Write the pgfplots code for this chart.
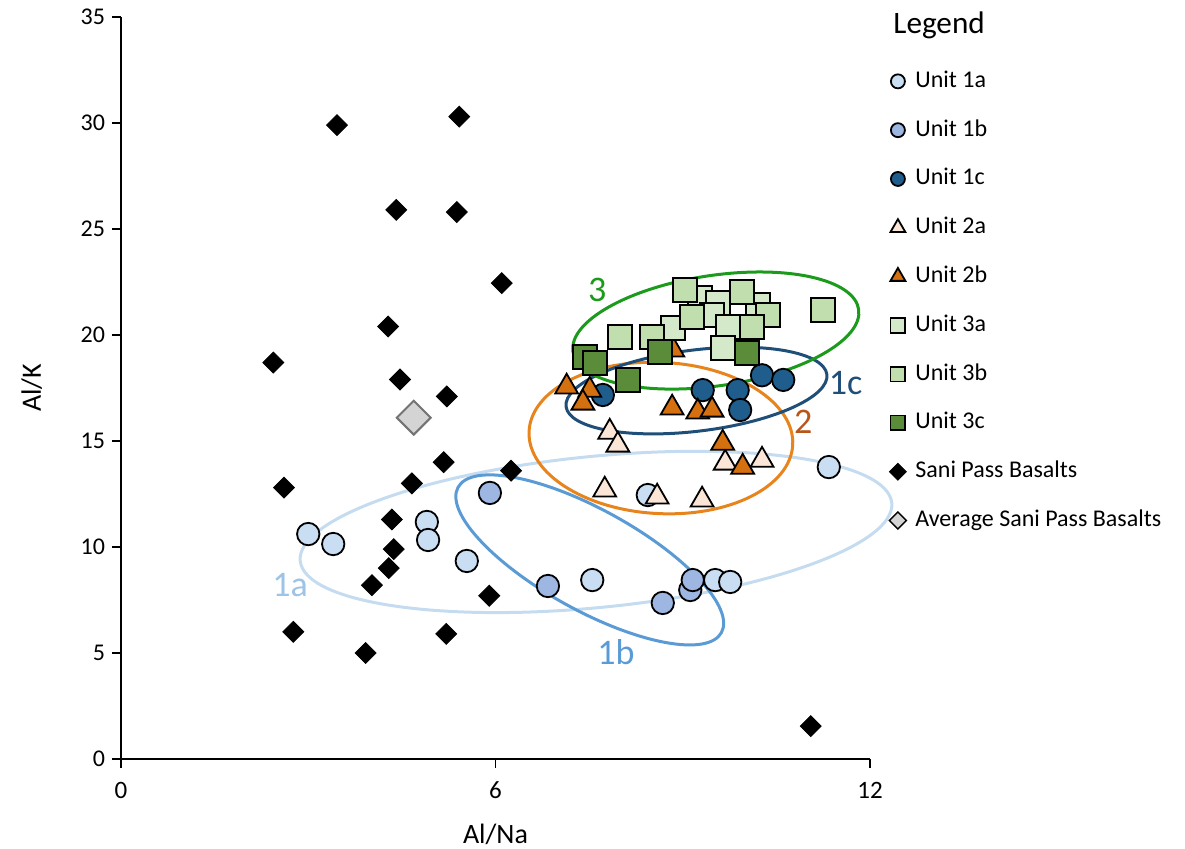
\documentclass[border=0pt]{standalone}
\usepackage{pgfplots}
\pgfplotsset{compat=1.18}
\usepackage{fontspec}
\setmainfont{Carlito}
\definecolor{c1a}{HTML}{C9DEF2}
\definecolor{c1b}{HTML}{9DB7E2}
\definecolor{c1c}{HTML}{1F5D8C}
\definecolor{c2a}{HTML}{FBE5D6}
\definecolor{c2b}{HTML}{D4700F}
\definecolor{c3a}{HTML}{D3E9C9}
\definecolor{c3b}{HTML}{C1DFAE}
\definecolor{c3c}{HTML}{5B8C3A}
\definecolor{cavg}{HTML}{D4D4D4}
\definecolor{e1a}{HTML}{C5DCF0}
\definecolor{e1b}{HTML}{5B9BD5}
\definecolor{e1c}{HTML}{1F4E79}
\definecolor{e2}{HTML}{E8841C}
\definecolor{e3}{HTML}{1C9A1C}
\definecolor{l1a}{HTML}{9DC3E6}
\definecolor{l2}{HTML}{B8561A}
\pgfplotsset{lgimg/.style={legend image code/.code={\draw[mark size=#1] plot coordinates {(0pt,0pt)};}}}
\begin{document}
\begin{tikzpicture}
\begin{axis}[
  at={(60.5pt,45pt)}, anchor=south west,
  scale only axis, width=374.5pt, height=371pt,
  xmin=0, xmax=12, ymin=0, ymax=35,
  axis lines*=left,
  axis line style={black, line width=0.9pt},
  xtick={0,6,12}, ytick={0,5,...,35},
  tick align=outside, major tick length=4.5pt,
  tick style={black, line width=0.9pt},
  yticklabel style={font=\fontsize{12}{14}\selectfont},
  xticklabel style={font=\fontsize{12.5}{14}\selectfont, yshift=-3.5pt},
  /pgf/number format/assume math mode=true,
  xlabel={Al/Na}, ylabel={Al/K},
  label style={font=\fontsize{14}{16}\selectfont},
  xlabel style={at={(axis description cs:0.5,-0.102)}, anchor=center},
  ylabel style={at={(axis description cs:-0.119,0.5)}, anchor=center},
  clip=false,
  legend cell align=left,
  legend style={at={(rel axis cs:1.0254,0.9313)}, anchor=north west, draw=none, fill=none,
    font=\fontsize{12}{14}\selectfont, row sep=11.4pt, column sep=3.5pt, inner sep=0pt,
    nodes={inner sep=1pt, text height=8.5pt, text depth=2.5pt}},
]
\addplot[only marks, mark=*, mark size=5.6pt, mark options={fill=c1a, draw=black, line width=0.9pt}, lgimg=3.5pt] coordinates {
(3.00,10.61) (3.40,10.14) (4.90,11.18) (4.92,10.33) (5.54,9.34) (7.55,8.44) (9.52,8.44) (9.76,8.35) (11.34,13.77) (8.44,12.45)};
\addlegendentry{Unit 1a}
\addplot[only marks, mark=*, mark size=5.6pt, mark options={fill=c1b, draw=black, line width=0.9pt}, lgimg=3.5pt] coordinates {
(5.91,12.55) (6.84,8.16) (8.68,7.36) (9.12,7.97) (9.16,8.44)};
\addlegendentry{Unit 1b}
\addplot[only marks, mark=*, mark size=5.6pt, mark options={fill=c1c, draw=black, line width=0.9pt}, lgimg=3.5pt] coordinates {
(7.72,17.17) (9.32,17.40) (9.88,17.40) (9.92,16.46) (10.27,18.10) (10.61,17.88)};
\addlegendentry{Unit 1c}
\addplot[only marks, mark=triangle*, mark size=6.6pt, mark options={fill=c2a, draw=black, line width=0.9pt}, lgimg=4.3pt] coordinates {
(7.83,15.42) (7.96,14.81) (9.68,13.96) (10.27,14.10) (7.75,12.69) (8.59,12.36) (9.31,12.22)};
\addlegendentry{Unit 2a}
\addplot[only marks, mark=triangle*, mark size=6.6pt, mark options={fill=c2b, draw=black, line width=0.9pt}, lgimg=4.3pt] coordinates {
(7.14,17.55) (7.51,17.40) (7.40,16.79) (8.83,16.56) (9.24,16.37) (9.47,16.46) (9.64,14.90) (9.96,13.77) (8.84,19.30)};
\addlegendentry{Unit 2b}
\addplot[only marks, mark=square*, mark size=6pt, mark options={fill=c3a, draw=black, line width=0.9pt}, lgimg=3.7pt] coordinates {
(9.28,21.75) (9.56,21.50) (10.21,21.42) (9.47,20.94) (9.72,20.38) (8.84,20.33) (9.64,19.39)};
\addlegendentry{Unit 3a}
\addplot[only marks, mark=square*, mark size=6pt, mark options={fill=c3b, draw=black, line width=0.9pt}, lgimg=3.7pt] coordinates {
(9.03,22.12) (9.95,22.03) (10.37,20.94) (11.25,21.18) (9.15,20.85) (10.11,20.38) (8.51,19.90) (7.99,19.90)};
\addlegendentry{Unit 3b}
\addplot[only marks, mark=square*, mark size=6pt, mark options={fill=c3c, draw=black, line width=0.9pt}, lgimg=3.7pt] coordinates {
(7.43,18.96) (7.59,18.68) (8.63,19.20) (8.12,17.88) (10.03,19.15)};
\addlegendentry{Unit 3c}
\addplot[only marks, mark=square*, mark size=3.7pt, mark options={rotate=45, fill=black, draw=black}, lgimg=3pt] coordinates {
(3.46,29.90) (5.42,30.30) (4.41,25.90) (5.38,25.80) (6.10,22.45) (4.28,20.40) (2.44,18.70) (4.47,17.90) (5.22,17.10) (5.17,14.00) (4.66,13.00) (6.25,13.60) (2.61,12.80) (4.34,11.30) (4.37,9.90) (4.29,9.00) (4.02,8.20) (5.90,7.70) (2.76,6.00) (5.21,5.90) (3.92,5.00) (11.05,1.55)};
\addlegendentry{Sani Pass Basalts}
\addplot[only marks, mark=square*, mark size=6pt, mark options={rotate=45, fill=cavg, draw=black!55, line width=1pt},
  legend image code/.code={\draw[mark size=3pt, mark options={rotate=45, fill=cavg, draw=black, line width=0.7pt}] plot coordinates {(0pt,0pt)};}] coordinates {
(4.69,16.10)};
\addlegendentry{Average Sani Pass Basalts}
% ellipses (annotations)
\draw[e1a, line width=1.5pt, rotate around={5.6:(axis cs:7.61,10.71)}] (axis cs:7.61,10.71) ellipse [x radius=148.6pt, y radius=37.8pt];
\draw[e1b, line width=1.5pt, rotate around={-28.9:(axis cs:7.51,9.39)}] (axis cs:7.51,9.39) ellipse [x radius=75.2pt, y radius=25.2pt];
\draw[e2, line width=1.5pt, rotate around={-3:(axis cs:8.65,15.14)}] (axis cs:8.65,15.14) ellipse [x radius=66pt, y radius=37.8pt];
\draw[e1c, line width=1.5pt, rotate around={7:(axis cs:9.22,17.38)}] (axis cs:9.22,17.38) ellipse [x radius=65.7pt, y radius=20.3pt];
\draw[e3, line width=1.5pt, rotate around={8.4:(axis cs:9.53,20.21)}] (axis cs:9.53,20.21) ellipse [x radius=72.2pt, y radius=27.6pt];
\node[e3, font=\fontsize{18}{20}\selectfont] at (axis cs:7.63,22.12) {3};
\node[e1c, font=\fontsize{18}{20}\selectfont] at (axis cs:11.61,17.74) {1c};
\node[l2, font=\fontsize{18}{20}\selectfont] at (axis cs:10.93,15.9) {2};
\node[l1a, font=\fontsize{18}{20}\selectfont] at (axis cs:2.71,8.21) {1a};
\node[e1b, font=\fontsize{18}{20}\selectfont] at (axis cs:7.93,5.05) {1b};
\node[anchor=base west, font=\fontsize{15.6}{18}\selectfont, inner sep=0pt] at (rel axis cs:1.0307,0.978) {Legend};
\end{axis}
\pgfresetboundingbox
\path (0,0) rectangle (592.5pt,424.5pt);
\end{tikzpicture}
\end{document}
